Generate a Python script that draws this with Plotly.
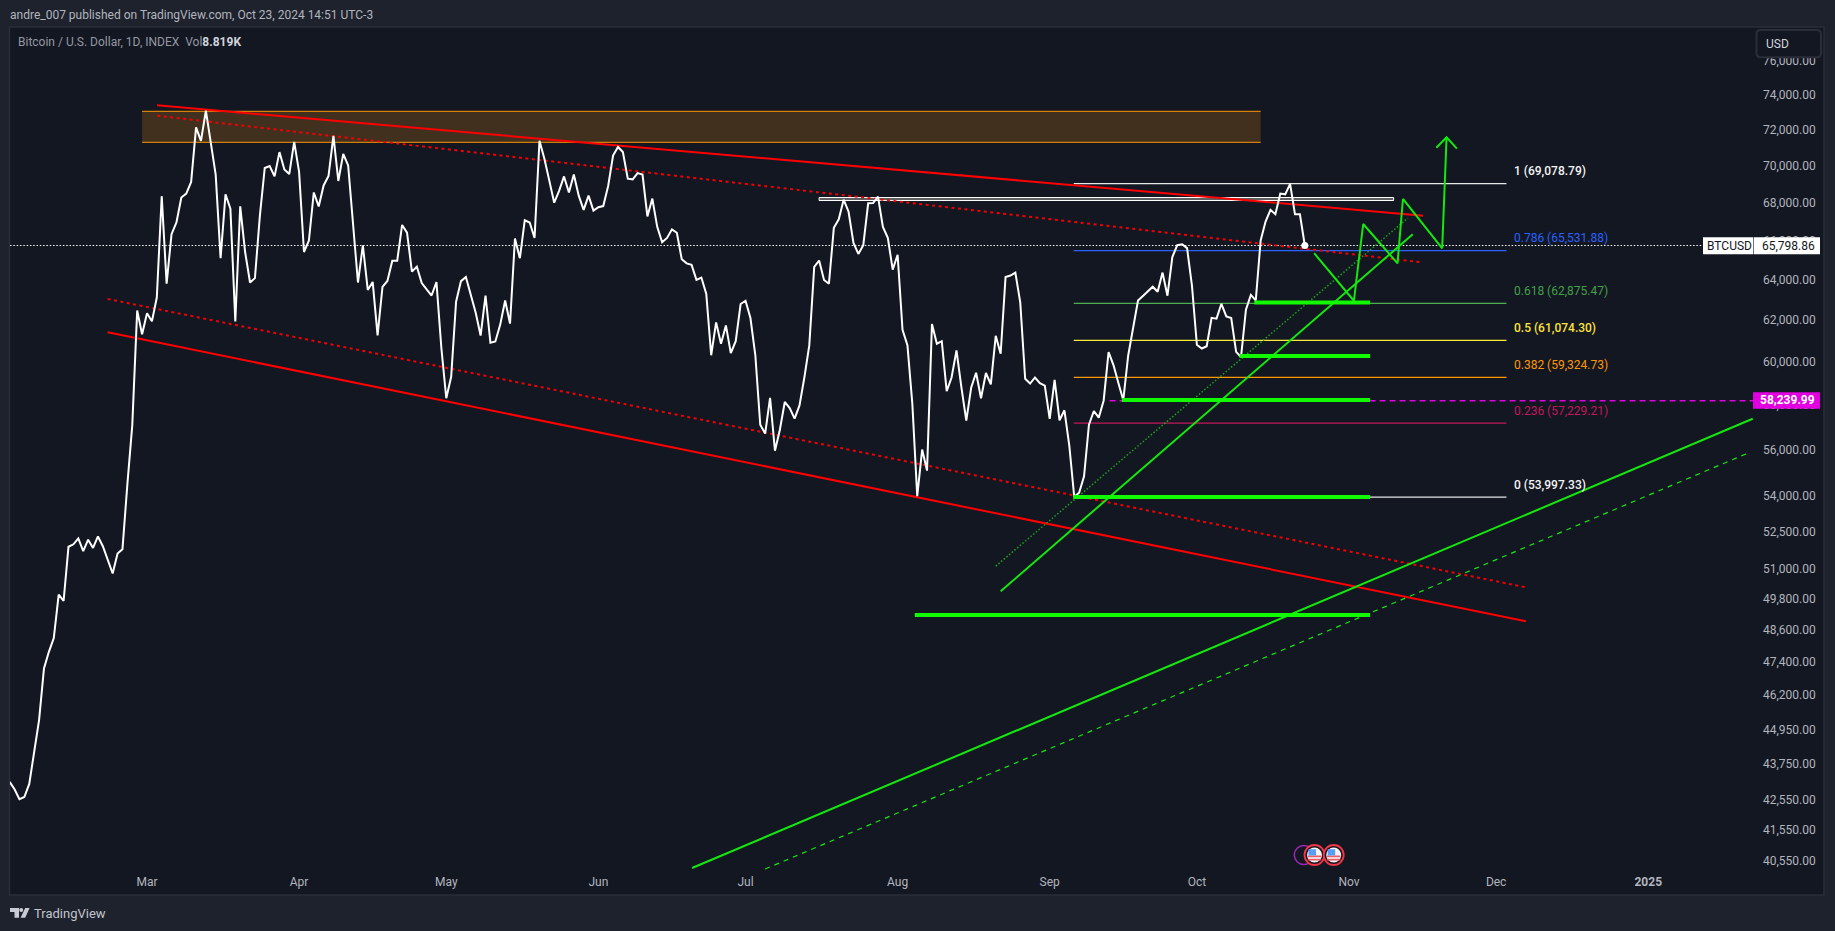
import numpy as np
import pandas as pd
import plotly.graph_objects as go

# ---------- data ----------
close_feb = [43175,42925,42595,42665,43105,44255,45325,47200,47820,48340,50020,49770,51935,52035,52275,51755,52225,51885,52355,51955,51415,50855,51655,51835,54555,57140,62525,61365]
close_mar = [62395,61995,63165,68400,63855,66390,67000,68330,68540,69170,72195,71435,73155,71385,69570,65145,68500,67730,61995,67860,65465,63915,64135,67340,69930,70040,69470,70810,69850,69600,71385]
close_apr = [69720,65465,66055,68600,67850,68980,69500,71715,69220,70710,70070,67080,63915,65805,63545,63945,61315,63695,63995,65015,65015,66870,66470,64465,64715,63885,63545,63265,63935,60710]
close_may = [58360,59350,62955,63985,64195,63345,62415,61305,63265,60965,61025,61835,63015,61885,66165,65145,67120,67000,66190,71445,70440,69240,68050,68690,69470,68600,69570,68430,67670,68430,67630]
close_jun = [67810,67870,68950,70620,71095,70810,69350,69310,69650,69570,67320,68270,66770,65965,66195,66640,66460,65095,64885,64805,64045,64165,63345,60365,61945,60915,61795,60465,61035,62845]
close_jul = [63005,62155,60365,57160,56760,58380,56005,56935,58190,57910,57430,58030,59330,60845,64705,65025,64045,63855,66720,67170,68210,67570,65935,65365,65815,68020,68030,68380,66770,66200,64565]
close_aug = [65325,61585,60845,58100,54035,56055,55135,61865,60915,61035,58690,59320,60595,58860,57340,58860,59540,58360,59530,59000,61295,60435,64195,64265,64415,62915,59260,59040,59320,59060,58940]
close_sep = [57420,59210,57360,57810,56215,54015,54185,54885,57160,57780,57480,58260,60515,59900,59060,58270,60355,61765,63015,63245,63475,63705,63455,64415,63255,65205,65815,65865,65665,63745]
close_oct = [60865,60685,60795,62165,62125,62855,62235,62155,60525,60285,62565,63295,63025,66065,67050,67670,67440,68540,68500,69060,67430,67430,65798.86]
closes = close_feb + close_mar + close_apr + close_may + close_jun + close_jul + close_aug + close_sep + close_oct
dates = pd.date_range("2024-02-02", periods=len(closes), freq="D")

last_price = 65798.86
alert_price = 58239.99

price_ticks = [76000,74000,72000,70000,68000,66000,64000,62000,60000,58000,56000,54000,52500,51000,49800,48600,47400,46200,44950,43750,42550,41550,40550]
month_ticks = ["2024-03-01","2024-04-01","2024-05-01","2024-06-01","2024-07-01","2024-08-01","2024-09-01","2024-10-01","2024-11-01","2024-12-01","2025-01-01"]
month_labels = ["Mar","Apr","May","Jun","Jul","Aug","Sep","Oct","Nov","Dec","<b>2025</b>"]

fib_ratio = ["1","0.786","0.618","0.5","0.382","0.236","0"]
fib_price = [69078.79,65531.88,62875.47,61074.30,59324.73,57229.21,53997.33]
fib_color = ["#e8e8e8","#2962ff","#4caf50","#ffeb3b","#ff9800","#c2185b","#e8e8e8"]
fib_label_color = ["#f4f4f4","#2962ff","#43a047","#fbe23c","#ff9800","#c2185b","#f4f4f4"]
fib_weight = [500,400,400,500,400,400,500]
fib_days = [188.9, 277.1]

# drawings: day offsets from 1 Mar 2024 and prices
box_days = [-1, 227]
box_price = [71357, 73116]
dbl_days = [137, 254.1]
dbl_price = [68167, 68329]

red_top_days, red_top_price = [2.04, 260.1], [73460, 67360]
red_topdot_days, red_topdot_price = [2.1, 260.0], [72865, 64935]
red_low_days, red_low_price = [-8.03, 281.07], [61465, 48980]
red_lowdot_days, red_lowdot_price = [-8.03, 281.07], [63095, 50305]

green_long_days, green_long_price = [111.1, 327.3], [40350, 57430]
green_dash_days, green_dash_price = [126, 326.5], [40320, 55915]
green_up_days, green_up_price = [174, 258], [50150, 66380]
green_dot_days, green_dot_price = [173, 257], [51150, 67230]

support_price = [62915, 60330, 58280, 54005, 49220]
support_start = [225.7, 222.7, 198.7, 188.8, 156.5]
support_end = 249.3

path_days = [237.9, 246, 247.9, 254.9, 256, 264, 264.9]
path_price = [65405, 63005, 66920, 64885, 68250, 65655, 71640]
head_days = [262.8, 264.9, 267]
head_price = [71050, 71640, 71000]

# ---------- layout geometry ----------
W, H = 1835, 931
L, R, T, B = 10, 1753, 27, 870
X0, PXD = 147, 4.906
Y74, K = 96.0, 1273.0
MAR1 = pd.Timestamp("2024-03-01")

def day(n):
    return (MAR1 + pd.to_timedelta(n, unit="D")).strftime("%Y-%m-%d %H:%M:%S")
def days(seq):
    return [day(v) for v in seq]
def xp(x):
    return (x - L) / (R - L)
def yp(y):
    return 1 - (y - T) / (B - T)
def rect(x0, y0, x1, y1, fill, line=None, lw=0, layer="above"):
    return dict(type="rect", xref="paper", yref="paper", x0=xp(x0), x1=xp(x1), y0=yp(y0), y1=yp(y1),
                fillcolor=fill, line=dict(color=line or fill, width=lw), layer=layer)
def circle(cx, cy, r, fill, line, lw):
    return dict(type="circle", xref="paper", yref="paper", x0=xp(cx-r), x1=xp(cx+r), y0=yp(cy+r), y1=yp(cy-r),
                fillcolor=fill, line=dict(color=line, width=lw), layer="above")
def poly(pts, fill):
    s = "M " + " L ".join(f"{xp(a):.6f},{yp(b):.6f}" for a, b in pts) + " Z"
    return dict(type="path", xref="paper", yref="paper", path=s, fillcolor=fill, line=dict(width=0), layer="above")

BG, PANE, EDGE, TXT = "#1e222d", "#131722", "#2a2e39", "#b2b5be"
FONT = "Roboto"
GREEN, THICK = "#14e80e", "#12fa00"

fig = go.Figure()
def line(x, y, color, width, dash="solid", fill=None, fillcolor=None, mode="lines"):
    fig.add_trace(go.Scatter(x=x, y=y, mode=mode, line=dict(color=color, width=width, dash=dash),
                             fill=fill, fillcolor=fillcolor, hoverinfo="skip", showlegend=False))

# orange zone: fill, then only top and bottom rules
bx = days([box_days[0], box_days[1], box_days[1], box_days[0], box_days[0]])
line(bx, [box_price[0], box_price[0], box_price[1], box_price[1], box_price[0]], "rgba(0,0,0,0)", 0,
     fill="toself", fillcolor="rgba(255,152,20,0.2)")
line(days(box_days), [box_price[0], box_price[0]], "#ff9800", 1)
line(days(box_days), [box_price[1], box_price[1]], "#ff9800", 1)
# fib levels
for p, c in zip(fib_price, fib_color):
    line(days(fib_days), [p, p], c, 1.2)
# last price & alert
line(days([-27.9, 327.4]), [last_price, last_price], "#ffffff", 1, dash="1.5px,1.8px")
line(days([196.2, 327.4]), [alert_price, alert_price], "#e000e0", 1.5, dash="6px,4px")
# double white
dx = days([dbl_days[0], dbl_days[1], dbl_days[1], dbl_days[0], dbl_days[0]])
line(dx, [dbl_price[0], dbl_price[0], dbl_price[1], dbl_price[1], dbl_price[0]], "#ffffff", 1,
     fill="toself", fillcolor="rgba(105,105,105,0.9)")
# red channel
line(days(red_top_days), red_top_price, "#ff0000", 2)
line(days(red_topdot_days), red_topdot_price, "#f00000", 2, dash="3px,3.5px")
line(days(red_low_days), red_low_price, "#ff0000", 2)
line(days(red_lowdot_days), red_lowdot_price, "#f00000", 2, dash="3px,3.5px")
# price
fig.add_trace(go.Scatter(x=dates, y=closes, mode="lines", line=dict(color="#ffffff", width=2),
                         hoverinfo="skip", showlegend=False))
fig.add_trace(go.Scatter(x=[dates[-1]], y=[closes[-1]], mode="markers", marker=dict(color="#ffffff", size=7),
                         hoverinfo="skip", showlegend=False))
# green drawings
line(days(green_long_days), green_long_price, GREEN, 2)
line(days(green_dash_days), green_dash_price, GREEN, 1.2, dash="5px,5px")
line(days(green_up_days), green_up_price, GREEN, 2)
line(days(green_dot_days), green_dot_price, "#1da51d", 1.5, dash="1.5px,2px")
for s, p in zip(support_start, support_price):
    line(days([s, support_end]), [p, p], THICK, 4)
line(days(path_days), path_price, GREEN, 2)
line(days(head_days), head_price, GREEN, 2)

shapes = [rect(9.5, 27, 1824, 895, PANE, EDGE, 1.5, layer="below")]
# price-axis labels
shapes += [
    rect(1703, 237.3, 1753, 254.3, "#ffffff"),
    rect(1753.6, 237.3, 1820, 254.3, "#ffffff"),
    rect(1753, 392.3, 1820, 408.7, "#e000e0"),
]
# USD button
ux0, ux1, uy0, uy1, rd = 1756.5, 1821, 30, 57.3, 4
usd = (f"M {xp(ux0+rd)},{yp(uy0)} L {xp(ux1-rd)},{yp(uy0)} Q {xp(ux1)},{yp(uy0)} {xp(ux1)},{yp(uy0+rd)} "
       f"L {xp(ux1)},{yp(uy1-rd)} Q {xp(ux1)},{yp(uy1)} {xp(ux1-rd)},{yp(uy1)} L {xp(ux0+rd)},{yp(uy1)} "
       f"Q {xp(ux0)},{yp(uy1)} {xp(ux0)},{yp(uy1-rd)} L {xp(ux0)},{yp(uy0+rd)} Q {xp(ux0)},{yp(uy0)} {xp(ux0+rd)},{yp(uy0)} Z")
shapes.append(dict(type="path", xref="paper", yref="paper", path=usd, fillcolor=PANE,
                   line=dict(color=EDGE, width=2), layer="above"))
# event icons
shapes.append(circle(1303.8, 855, 9.5, PANE, "#9c27b0", 1.5))
for cx in (1314.5, 1333.7):
    cy = 855
    shapes.append(circle(cx, cy, 10, PANE, "#f23645", 1.8))
    shapes.append(circle(cx, cy, 7.5, "#f4f4f4", "#f4f4f4", 0))
    for dy in (0.5, 3.8):
        shapes.append(rect(cx-6.6, cy+dy, cx+6.6, cy+dy+1.7, "#ef5b66"))
    shapes.append(rect(cx-6, cy-5.8, cx+1.5, cy+0.5, "#5b9cf6"))
# TradingView logo
shapes += [
    poly([(10,908),(19,908),(19,917.7),(14.5,917.7),(14.5,912),(10,912)], "#c9ccd4"),
    circle(21.2, 910, 2, "#c9ccd4", "#c9ccd4", 0),
    poly([(25.2,908),(29.6,908),(25.2,917.7),(20.6,917.7)], "#c9ccd4"),
]

def note_px(x, y, text, color=TXT, size=12, xanchor="left", weight=400):
    return dict(xref="paper", yref="paper", x=xp(x), y=yp(y), text=text, showarrow=False, xanchor=xanchor,
                yanchor="middle", font=dict(family=FONT, size=size, color=color, weight=weight),
                borderpad=0, borderwidth=0)

annotations = [
    note_px(10, 14.7, "andre_007 published on TradingView.com, Oct 23, 2024 14:51 UTC-3"),
    note_px(18, 42, 'Bitcoin / U.S. Dollar, 1D, INDEX\u00a0\u00a0Vol<b><span style="color:#d1d4dc">8.819K</span></b>', color="#9598a1"),
    note_px(1766, 44.5, "USD", color="#d1d4dc"),
    note_px(1707, 245.8, "BTCUSD", color=PANE),
    note_px(1815, 245.5, "65,798.86", color=PANE, xanchor="right"),
    note_px(1815, 400.2, "<b>58,239.99</b>", color="#ffffff", xanchor="right"),
    note_px(34, 913.7, "TradingView", color="#c2c4cc", size=13),
]
for r, p, c, wt in zip(fib_ratio, fib_price, fib_label_color, fib_weight):
    annotations.append(dict(xref="x", yref="y", x=day(278.25), y=float(np.log10(p)), yshift=12.5,
                            text=f"{r} ({p:,.2f})", showarrow=False, xanchor="left", yanchor="middle",
                            font=dict(family=FONT, size=12, color=c, weight=wt)))

y_top = 74000 * np.exp((Y74 - T) / K)
y_bot = 74000 * np.exp(-(B - Y74) / K)

fig.update_layout(
    width=W, height=H, autosize=False,
    margin=dict(l=L, r=W - R, t=T, b=H - B, pad=0),
    paper_bgcolor=BG, plot_bgcolor=PANE,
    font=dict(family=FONT, size=12, color=TXT),
    showlegend=False,
    shapes=shapes,
    annotations=annotations,
    xaxis=dict(type="date", range=[day((L - X0) / PXD), day((R - X0) / PXD)], tickmode="array",
               tickvals=month_ticks, ticktext=month_labels, showgrid=False, zeroline=False, showline=False,
               ticks="", ticklabelstandoff=3, tickfont=dict(family=FONT, size=12, color=TXT)),
    yaxis=dict(type="log", side="right", range=[float(np.log10(y_bot)), float(np.log10(y_top))], tickmode="array",
               tickvals=price_ticks, ticktext=[f"{v:,.2f}" for v in price_ticks], showgrid=False, zeroline=False,
               showline=False, ticks="", ticklabelstandoff=9, ticklabelshift=-1, tickfont=dict(family=FONT, size=12, color=TXT)),
)

fig.write_html("out.html", post_script="document.body.style.margin='0';document.body.style.overflow='hidden';document.body.style.background='#1e222d';",
               config={"displayModeBar": False})
